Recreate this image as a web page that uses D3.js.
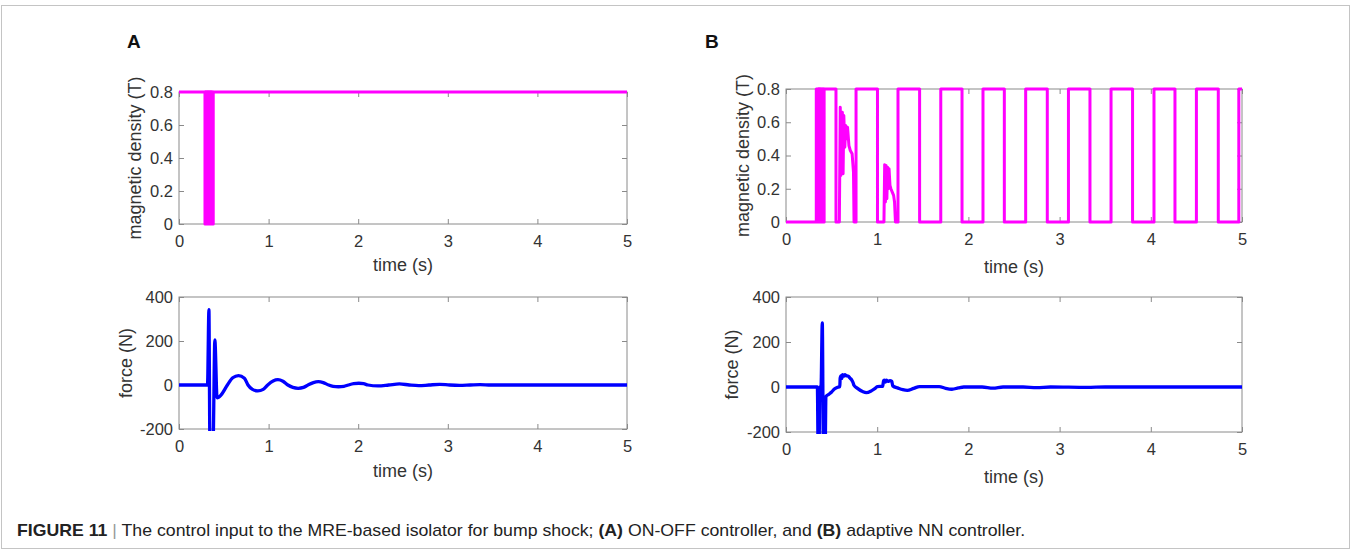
<!DOCTYPE html>
<html lang="en">
<head>
<meta charset="UTF-8">
<title>Figure 11</title>
<script src="https://cdnjs.cloudflare.com/ajax/libs/d3/7.8.5/d3.min.js"></script>
<style>
  body { margin: 0; background: #fff; }
  svg { display: block; font-family: "Liberation Sans", Arial, sans-serif; }
  .tick text { fill: #333; font-size: 16.5px; }
  .tick line { stroke: #8a8a8a; }
  .axlabel { fill: #333; font-size: 18px; }
</style>
</head>
<body>
<script>

// ---- data ----
var timeTicks = [0, 1, 2, 3, 4, 5];
var timeTickLabels = ["0", "1", "2", "3", "4", "5"];
var magTicks = [0, 0.2, 0.4, 0.6, 0.8];
var magTickLabels = ["0", "0.2", "0.4", "0.6", "0.8"];
var forceTicks = [-200, 0, 200, 400];
var forceTickLabels = ["-200", "0", "200", "400"];

// (A) on-off controller: field held at 0.8 T, chattering between 0.29 and 0.38 s
var aMagSwitch = [0.290, 0.296, 0.302, 0.308, 0.314, 0.320, 0.326, 0.332,
                  0.338, 0.344, 0.350, 0.356, 0.362, 0.368, 0.374, 0.382];

// (A) force [t, N]
var aForce = [[0, 0], [0.318, 0], [0.334, 342], [0.345, -260], [0.38, -260], [0.40, 205],
  [0.425, -58], [0.47, -45], [0.54, 0], [0.60, 33], [0.664, 43], [0.73, 31], [0.77, 0],
  [0.82, -20], [0.88, -27], [0.94, -20], [0.99, 0], [1.05, 18], [1.104, 24], [1.16, 17],
  [1.215, 0], [1.27, -11], [1.33, -15], [1.39, -11], [1.44, 0], [1.5, 11], [1.555, 15],
  [1.61, 11], [1.67, 0], [1.72, -6], [1.78, -8], [1.84, -6], [1.89, 0], [1.95, 6],
  [2.007, 8], [2.06, 6], [2.11, 0], [2.22, -4], [2.34, 0], [2.46, 5], [2.57, 0],
  [2.675, -3], [2.79, 0], [2.91, 3], [3.02, 0], [3.13, -1.5], [3.25, 0], [3.36, 1.5],
  [3.48, 0], [5, 0]];

// (B) adaptive NN controller: start-up transient [t, T]
var bMagStart = [[0, 0], [0.332, 0], [0.332, 0.8], [0.352, 0.8], [0.352, 0], [0.358, 0],
  [0.358, 0.8], [0.366, 0.8], [0.366, 0], [0.372, 0], [0.372, 0.8], [0.38, 0.8], [0.38, 0],
  [0.386, 0], [0.386, 0.8], [0.394, 0.8], [0.394, 0], [0.402, 0], [0.402, 0.8], [0.41, 0.8],
  [0.41, 0], [0.418, 0], [0.418, 0.8], [0.548, 0.8], [0.548, 0], [0.585, 0], [0.595, 0.69],
  [0.602, 0.28], [0.61, 0.6], [0.618, 0.66], [0.626, 0.29], [0.634, 0.64], [0.645, 0.45],
  [0.655, 0.58], [0.665, 0.5], [0.675, 0.57], [0.69, 0.46], [0.705, 0.43], [0.725, 0.41],
  [0.74, 0.3], [0.746, 0], [0.768, 0]];
// second burst after the first full pulse
var bMagBurst = [[1.074, 0], [1.082, 0.345], [1.09, 0.12], [1.098, 0.34], [1.106, 0.14],
  [1.114, 0.33], [1.122, 0.2], [1.13, 0.32], [1.14, 0.22], [1.15, 0.2], [1.165, 0.18],
  [1.18, 0.16], [1.19, 0.12], [1.2, 0]];
// square-wave switching instants (s)
var bRise = [0.768, 1.228, 1.697, 2.160, 2.628, 3.097, 3.564, 4.035, 4.500, 4.965];
var bFall = [1.003, 1.465, 1.930, 2.394, 2.865, 3.333, 3.800, 4.265, 4.740, 5.0];

// (B) force [t, N]
var bForce = [[0, 0], [0.344, 0], [0.352, -260], [0.362, -260], [0.372, 0], [0.384, 2],
  [0.398, 285], [0.41, -260], [0.43, -260], [0.4375, -43], [0.47, -32], [0.5, -22],
  [0.527, -10], [0.56, -2], [0.59, 2], [0.594, 40], [0.605, 50], [0.612, 38], [0.62, 55],
  [0.635, 48], [0.645, 55], [0.66, 50], [0.684, 48], [0.70, 40], [0.72, 32], [0.735, 20],
  [0.745, 8], [0.78, -5], [0.84, -20], [0.88, -25], [0.94, -16], [0.98, -6], [1.0, 2],
  [1.06, 3], [1.07, 28], [1.08, 30], [1.09, 22], [1.1, 30], [1.12, 25], [1.14, 28],
  [1.16, 25], [1.17, 5], [1.23, -5], [1.28, -12], [1.33, -15], [1.40, -6], [1.465, 2],
  [1.68, 2], [1.75, -6], [1.82, -10], [1.89, -4], [1.95, 0], [2.15, 0], [2.27, -5],
  [2.38, 0], [2.6, 0], [2.75, -3], [2.9, 0], [3.3, -2], [3.5, 0], [5, 0]];

// ---- build step paths from switching times ----
var aMag = [[0, 0.8]];
var cur = 0.8;
aMagSwitch.forEach(function(t) {
    aMag.push([t, cur]);
    cur = cur > 0 ? 0 : 0.8;
    aMag.push([t, cur]);
});
aMag.push([5, cur]);

var bMag = bMagStart.slice();
bRise.forEach(function(r, i) {
    var f = bFall[i];
    bMag.push([r, 0], [r, 0.8], [f, 0.8]);
    if (f < 5) bMag.push([f, 0]);
    if (i === 0) bMag = bMag.concat(bMagBurst);
});

// ---- svg ----
var W = 1358, H = 554;
var svg = d3.select("body").append("svg")
    .attr("width", W)
    .attr("height", H);

svg.append("rect").attr("width", W).attr("height", H).attr("fill", "#fff");

// frame
svg.append("rect")
    .attr("x", 1.5).attr("y", 5.5)
    .attr("width", 1348).attr("height", 543)
    .attr("fill", "none")
    .attr("stroke", "#c4c4c4")
    .attr("stroke-width", 1);

var clipId = 0;

function drawPanel(p) {
    var x = d3.scaleLinear().domain([0, 5]).range([p.x0, p.x1]);
    var y = d3.scaleLinear().domain(p.ydom).range([p.y1, p.y0]);
    var g = svg.append("g");

    clipId++;
    svg.append("clipPath").attr("id", "clip" + clipId)
        .append("rect")
        .attr("x", p.x0 - 2).attr("y", p.y0 - 2)
        .attr("width", p.x1 - p.x0 + 4).attr("height", p.y1 - p.y0 + 4);

    // inward ticks on all four sides
    var bottom = g.append("g").attr("transform", "translate(0," + p.y1 + ")")
        .call(d3.axisBottom(x).tickValues(timeTicks)
            .tickFormat(function(d, i) { return timeTickLabels[i]; })
            .tickSizeInner(-5).tickSizeOuter(0).tickPadding(11));
    var top = g.append("g").attr("transform", "translate(0," + p.y0 + ")")
        .call(d3.axisTop(x).tickValues(timeTicks).tickFormat("")
            .tickSizeInner(-5).tickSizeOuter(0));
    var left = g.append("g").attr("transform", "translate(" + p.x0 + ",0)")
        .call(d3.axisLeft(y).tickValues(p.yticks)
            .tickFormat(function(d, i) { return p.ylabels[i]; })
            .tickSizeInner(-5).tickSizeOuter(0).tickPadding(6));
    var right = g.append("g").attr("transform", "translate(" + p.x1 + ",0)")
        .call(d3.axisRight(y).tickValues(p.yticks).tickFormat("")
            .tickSizeInner(-5).tickSizeOuter(0));
    [bottom, top, left, right].forEach(function(a) {
        a.select(".domain").remove();
        a.attr("font-family", null).attr("font-size", null);
    });

    g.append("rect")
        .attr("x", p.x0).attr("y", p.y0)
        .attr("width", p.x1 - p.x0).attr("height", p.y1 - p.y0)
        .attr("fill", "none")
        .attr("stroke", "#8a8a8a")
        .attr("stroke-width", 1);

    var line = d3.line()
        .x(function(d) { return x(d[0]); })
        .y(function(d) { return y(d[1]); })
        .curve(p.curve);

    g.append("path")
        .datum(p.data)
        .attr("clip-path", "url(#clip" + clipId + ")")
        .attr("fill", "none")
        .attr("stroke", p.color)
        .attr("stroke-width", p.lw)
        .attr("stroke-linejoin", "round")
        .attr("d", line);

    g.append("text")
        .attr("class", "axlabel")
        .attr("x", (p.x0 + p.x1) / 2)
        .attr("y", p.xlabY)
        .attr("text-anchor", "middle")
        .text("time (s)");

    g.append("text")
        .attr("class", "axlabel")
        .attr("transform", "translate(" + p.ylabX + "," + ((p.y0 + p.y1) / 2) + ") rotate(-90)")
        .attr("text-anchor", "middle")
        .text(p.ytitle);
}

drawPanel({x0: 179, x1: 627, y0: 92, y1: 224, ydom: [0, 0.8],
    yticks: magTicks, ylabels: magTickLabels, data: aMag, color: "#ff00ff", lw: 3,
    curve: d3.curveLinear, xlabY: 271, ylabX: 141, ytitle: "magnetic density (T)"});
drawPanel({x0: 179, x1: 627, y0: 297, y1: 429, ydom: [-200, 400],
    yticks: forceTicks, ylabels: forceTickLabels, data: aForce, color: "#0000ff", lw: 3.3,
    curve: d3.curveMonotoneX, xlabY: 477, ylabX: 132, ytitle: "force (N)"});
drawPanel({x0: 786, x1: 1242, y0: 89, y1: 222, ydom: [0, 0.8],
    yticks: magTicks, ylabels: magTickLabels, data: bMag, color: "#ff00ff", lw: 3,
    curve: d3.curveLinear, xlabY: 273, ylabX: 749, ytitle: "magnetic density (T)"});
drawPanel({x0: 786, x1: 1242, y0: 297, y1: 432, ydom: [-200, 400],
    yticks: forceTicks, ylabels: forceTickLabels, data: bForce, color: "#0000ff", lw: 3.3,
    curve: d3.curveMonotoneX, xlabY: 483, ylabX: 737.5, ytitle: "force (N)"});

// panel letters
svg.append("text").attr("x", 127).attr("y", 48)
    .attr("font-weight", "bold").attr("font-size", "19px").attr("fill", "#111").text("A");
svg.append("text").attr("x", 705).attr("y", 48)
    .attr("font-weight", "bold").attr("font-size", "19px").attr("fill", "#111").text("B");

// caption, squeezed horizontally to mimic the journal's condensed face
var cap = svg.append("text")
    .attr("font-size", "16px")
    .attr("fill", "#222");
var parts = [["FIGURE 11", true], [" ", false], ["|", false],
    [" The control input to the MRE-based isolator for bump shock; ", false], ["(A)", true],
    [" ON-OFF controller, and ", false], ["(B)", true], [" adaptive NN controller.", false]];
parts.forEach(function(p) {
    var ts = cap.append("tspan").text(p[0]);
    if (p[1]) ts.attr("font-weight", "bold");
    if (p[0] === "|") ts.attr("fill", "#999");
});
var capW = cap.node().getComputedTextLength();
cap.attr("transform", "translate(17,536) scale(" + (1009 / capW) + ",1)");

</script>
</body>
</html>
